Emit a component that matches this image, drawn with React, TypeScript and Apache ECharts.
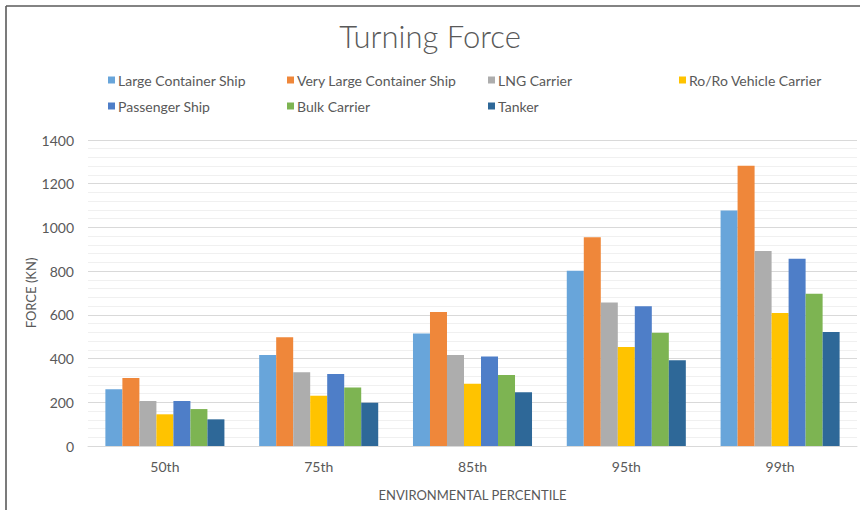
import React, { useEffect, useRef } from "react";
import * as echarts from "echarts";

const categories = ["50th", "75th", "85th", "95th", "99th"];
const seriesNames = [
  "Large Container Ship",
  "Very Large Container Ship",
  "LNG Carrier",
  "Ro/Ro Vehicle Carrier",
  "Passenger Ship",
  "Bulk Carrier",
  "Tanker",
];
const largeContainer = [260, 416, 515, 802, 1078];
const veryLargeContainer = [311, 497, 613, 955, 1282];
const lngCarrier = [206, 337, 416, 657, 892];
const roroCarrier = [145, 230, 285, 453, 608];
const passengerShip = [206, 329, 409, 639, 857];
const bulkCarrier = [169, 268, 325, 518, 697];
const tanker = [122, 198, 246, 392, 522];
const seriesValues = [
  largeContainer,
  veryLargeContainer,
  lngCarrier,
  roroCarrier,
  passengerShip,
  bulkCarrier,
  tanker,
];
const colors = ["#68a5da", "#ef873a", "#adadad", "#ffc300", "#4e7ec8", "#7db452", "#2e6898"];

const legendPos = [
  [108, 73],
  [287, 73],
  [488, 73],
  [679, 73],
  [108, 99],
  [287, 99],
  [488, 99],
];

const FONT = "Lato, 'Noto Sans', sans-serif";
const GREY = "#595959";

export default function App() {
  const ref = useRef<HTMLDivElement>(null);
  useEffect(() => {
    if (!ref.current) return;
    const chart = echarts.init(ref.current, null, { renderer: "svg" });
    chart.setOption({
      animation: false,
      backgroundColor: "#ffffff",
      color: colors,
      textStyle: { fontFamily: FONT },
      title: {
        text: "Turning Force",
        left: "center",
        top: 15,
        textStyle: { fontFamily: FONT, fontSize: 31, fontWeight: 300, color: GREY },
      },
      legend: seriesNames.map((name, i) => ({
        data: [name],
        left: legendPos[i][0],
        top: legendPos[i][1],
        itemWidth: 7,
        itemHeight: 7,
        itemGap: 0,
        padding: 0,
        icon: "rect",
        textStyle: { fontFamily: FONT, fontSize: 14, color: GREY, padding: [0, 0, 0, -2] },
      })),
      grid: { left: 88, right: 3, top: 140, bottom: 64, containLabel: false },
      xAxis: {
        type: "category",
        data: categories,
        name: "ENVIRONMENTAL PERCENTILE",
        nameLocation: "middle",
        nameGap: 42,
        nameMoveOverlap: false,
        nameTextStyle: { fontFamily: FONT, fontSize: 13, color: GREY },
        axisLine: { lineStyle: { color: "#d9d9d9", width: 1 } },
        axisTick: { show: false },
        axisLabel: { fontFamily: FONT, fontSize: 14, color: GREY, margin: 13 },
      },
      yAxis: {
        type: "value",
        min: 0,
        max: 1400,
        interval: 200,
        name: "FORCE (KN)",
        nameLocation: "middle",
        nameGap: 51,
        nameMoveOverlap: false,
        nameTextStyle: { fontFamily: FONT, fontSize: 13, color: GREY },
        axisLine: { show: false },
        axisTick: { show: false },
        axisLabel: {
          fontFamily: FONT,
          fontSize: 14,
          color: GREY,
          margin: 14,
          formatter: (v: number) => String(v),
        },
        splitLine: { lineStyle: { color: "#d9d9d9", width: 1 } },
        minorTick: { show: false, splitNumber: 5 },
        minorSplitLine: { show: true, lineStyle: { color: "#f0f0f0", width: 1 } },
      },
      series: seriesNames.map((name, i) => ({
        name,
        type: "bar",
        data: seriesValues[i],
        barGap: "0%",
        barCategoryGap: "22.6%",
        itemStyle: { color: colors[i] },
      })),
      graphic: [
        {
          type: "line",
          shape: { x1: 6, y1: 6, x2: 860, y2: 6 },
          style: { stroke: "#5a5a5a", lineWidth: 1.6 },
          silent: true,
        },
        {
          type: "line",
          shape: { x1: 6, y1: 6, x2: 6, y2: 510 },
          style: { stroke: "#5a5a5a", lineWidth: 1.6 },
          silent: true,
        },
      ],
    });
    return () => chart.dispose();
  }, []);
  return (
    <div
      ref={ref}
      style={{ position: "fixed", left: 0, top: 0, width: 860, height: 510, background: "#fff" }}
    />
  );
}
